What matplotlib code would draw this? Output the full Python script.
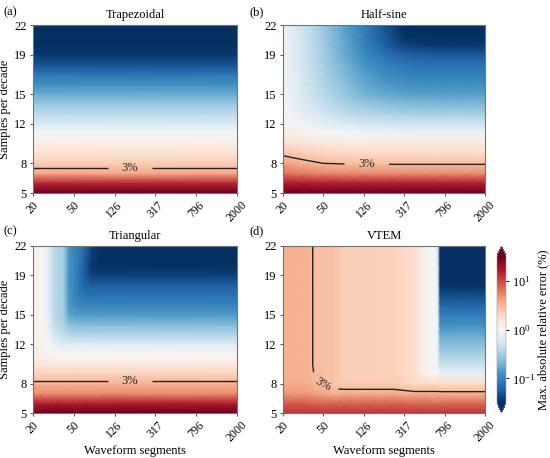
import numpy as np
import matplotlib
matplotlib.use('Agg')
import matplotlib.pyplot as plt
from matplotlib.colors import Normalize, LogNorm
from matplotlib.cm import ScalarMappable
from matplotlib.ticker import NullLocator

plt.rcParams['font.family'] = ['Liberation Serif', 'DejaVu Serif']
plt.rcParams['mathtext.fontset'] = 'custom'
plt.rcParams['mathtext.rm'] = 'Liberation Serif'
plt.rcParams['mathtext.it'] = 'Liberation Serif:italic'
plt.rcParams['font.size'] = 9

# ---------------- data ----------------
spd = [5, 6, 7, 8, 9, 10, 11, 12, 13, 14, 15, 16, 17, 18, 19, 20, 21, 22]
xticks = [20, 50, 126, 317, 796, 2000]
yticks = [5, 8, 12, 15, 19, 22]
titles = ["Trapezoidal", "Half-sine", "Triangular", "VTEM"]
letters = ["(a)", "(b)", "(c)", "(d)"]

# (a) Trapezoidal - rows y=5..22
seg_a = [20, 2000]
err_a = [
    [40, 40], [14, 14], [3.7, 3.7], [2.4, 2.4], [1.7, 1.7], [1.25, 1.25],
    [0.9, 0.9], [0.6, 0.6], [0.4, 0.4], [0.27, 0.27], [0.18, 0.18],
    [0.12, 0.12], [0.08, 0.08], [0.05, 0.05], [0.036, 0.036],
    [0.028, 0.028], [0.024, 0.024], [0.02, 0.02],
]

# (b) Half-sine
seg_b = [20, 32, 50, 80, 126, 200, 317, 502, 796, 1262, 2000]
err_b = [
    [36, 35, 35, 35, 35, 35, 35, 35, 35, 35, 35],
    [16, 15.5, 15, 15, 15, 15, 15, 15, 15, 15, 15],
    [6.5, 5.8, 5.3, 5.1, 5.0, 5.0, 5.0, 5.0, 5.0, 5.0, 5.0],
    [4.0, 3.4, 3.0, 2.9, 2.86, 2.84, 2.83, 2.83, 2.83, 2.83, 2.83],
    [2.75, 2.4, 2.2, 2.1, 2.05, 2.02, 2.0, 2.0, 2.0, 2.0, 2.0],
    [1.85, 1.6, 1.48, 1.42, 1.38, 1.36, 1.35, 1.35, 1.35, 1.35, 1.35],
    [1.4, 1.15, 1.02, 0.95, 0.9, 0.87, 0.855, 0.85, 0.85, 0.85, 0.85],
    [1.15, 0.88, 0.72, 0.6, 0.55, 0.52, 0.505, 0.5, 0.5, 0.5, 0.5],
    [1.02, 0.72, 0.55, 0.43, 0.37, 0.34, 0.325, 0.32, 0.32, 0.32, 0.32],
    [0.97, 0.63, 0.45, 0.33, 0.27, 0.24, 0.225, 0.22, 0.22, 0.22, 0.22],
    [0.94, 0.58, 0.39, 0.27, 0.20, 0.17, 0.155, 0.15, 0.15, 0.15, 0.15],
    [0.92, 0.55, 0.36, 0.24, 0.17, 0.14, 0.125, 0.12, 0.12, 0.12, 0.12],
    [0.91, 0.53, 0.34, 0.22, 0.15, 0.115, 0.1, 0.095, 0.095, 0.095, 0.095],
    [0.90, 0.52, 0.32, 0.2, 0.13, 0.095, 0.08, 0.076, 0.075, 0.075, 0.075],
    [0.89, 0.51, 0.31, 0.18, 0.11, 0.075, 0.06, 0.056, 0.055, 0.055, 0.055],
    [0.88, 0.50, 0.30, 0.17, 0.10, 0.06, 0.04, 0.036, 0.035, 0.035, 0.035],
    [0.87, 0.49, 0.29, 0.16, 0.095, 0.055, 0.033, 0.03, 0.03, 0.03, 0.03],
    [0.86, 0.48, 0.28, 0.155, 0.09, 0.05, 0.03, 0.027, 0.026, 0.026, 0.026],
]

# (c) Triangular
seg_c = [20, 24, 28, 33, 40, 45, 52, 62, 75, 90, 2000]
err_c = [
    [35, 35, 35, 35, 35, 35, 35, 35, 35, 35, 35],
    [15, 15, 15, 15, 15, 15, 15, 15, 15, 15, 15],
    [5, 5, 5, 5, 5, 5, 5, 5, 5, 5, 5],
    [3.3, 3.3, 3.3, 3.3, 3.3, 3.3, 3.3, 3.3, 3.3, 3.3, 3.3],
    [2.2, 2.2, 2.2, 2.2, 2.2, 2.2, 2.2, 2.2, 2.2, 2.2, 2.2],
    [1.5, 1.45, 1.42, 1.4, 1.4, 1.4, 1.4, 1.4, 1.4, 1.4, 1.4],
    [1.35, 1.2, 1.1, 1.02, 1.0, 1.0, 1.0, 1.0, 1.0, 1.0, 1.0],
    [1.3, 1.12, 0.95, 0.75, 0.68, 0.66, 0.65, 0.65, 0.65, 0.65, 0.65],
    [1.3, 1.07, 0.82, 0.5, 0.42, 0.37, 0.355, 0.35, 0.35, 0.35, 0.35],
    [1.3, 1.05, 0.77, 0.42, 0.34, 0.24, 0.225, 0.22, 0.22, 0.22, 0.22],
    [1.3, 1.05, 0.75, 0.38, 0.3, 0.16, 0.145, 0.14, 0.14, 0.14, 0.14],
    [1.3, 1.05, 0.75, 0.38, 0.3, 0.14, 0.11, 0.1, 0.1, 0.1, 0.1],
    [1.3, 1.05, 0.75, 0.38, 0.3, 0.13, 0.1, 0.08, 0.075, 0.075, 0.075],
    [1.3, 1.05, 0.75, 0.38, 0.3, 0.13, 0.1, 0.065, 0.06, 0.06, 0.06],
    [1.3, 1.05, 0.75, 0.38, 0.3, 0.13, 0.1, 0.06, 0.04, 0.04, 0.04],
    [1.3, 1.05, 0.75, 0.38, 0.3, 0.13, 0.1, 0.065, 0.035, 0.03, 0.03],
    [1.3, 1.05, 0.75, 0.38, 0.3, 0.13, 0.1, 0.07, 0.038, 0.027, 0.026],
    [1.3, 1.05, 0.75, 0.38, 0.3, 0.13, 0.1, 0.075, 0.042, 0.026, 0.024],
]

# (d) VTEM
seg_d = [20, 36, 42, 63, 80, 126, 250, 400, 500, 620, 680, 720, 2000]
err_d = [
    [12, 12, 12, 12, 12, 12, 12, 12, 12, 12, 12, 12, 12],
    [8, 8, 7.5, 7.5, 7.5, 7.5, 7.5, 7, 7, 7, 7, 7, 7],
    [4.5, 4.4, 4.0, 3.3, 3.5, 3.5, 3.5, 3.3, 3.3, 3.3, 3.3, 3.3, 3.3],
    [3.6, 3.5, 3.1, 2.7, 2.4, 2.4, 2.4, 2.0, 2.0, 2.0, 2.0, 1.9, 1.9],
    [3.4, 3.3, 2.9, 2.75, 2.3, 2.25, 2.2, 1.8, 1.2, 1.0, 0.95, 0.8, 0.8],
    [3.4, 3.3, 2.8, 2.8, 2.3, 2.25, 2.2, 1.8, 1.15, 0.95, 0.85, 0.45, 0.45],
    [3.4, 3.3, 2.8, 2.8, 2.3, 2.25, 2.2, 1.8, 1.15, 0.95, 0.85, 0.32, 0.32],
    [3.4, 3.3, 2.8, 2.8, 2.3, 2.25, 2.2, 1.8, 1.15, 0.95, 0.85, 0.23, 0.23],
    [3.4, 3.3, 2.8, 2.8, 2.3, 2.25, 2.2, 1.8, 1.15, 0.95, 0.85, 0.17, 0.17],
    [3.4, 3.3, 2.8, 2.8, 2.3, 2.25, 2.2, 1.8, 1.15, 0.95, 0.85, 0.12, 0.12],
    [3.4, 3.3, 2.8, 2.8, 2.3, 2.25, 2.2, 1.8, 1.15, 0.95, 0.85, 0.09, 0.09],
    [3.4, 3.3, 2.8, 2.8, 2.3, 2.25, 2.2, 1.8, 1.15, 0.95, 0.85, 0.065, 0.065],
    [3.4, 3.3, 2.8, 2.8, 2.3, 2.25, 2.2, 1.8, 1.15, 0.95, 0.82, 0.045, 0.045],
    [3.4, 3.3, 2.8, 2.8, 2.3, 2.25, 2.2, 1.8, 1.15, 0.95, 0.8, 0.032, 0.032],
    [3.4, 3.3, 2.8, 2.8, 2.3, 2.25, 2.2, 1.8, 1.15, 0.95, 0.78, 0.03, 0.03],
    [3.4, 3.3, 2.8, 2.8, 2.3, 2.25, 2.2, 1.8, 1.15, 0.95, 0.75, 0.028, 0.028],
    [3.4, 3.3, 2.8, 2.8, 2.3, 2.25, 2.2, 1.8, 1.15, 0.95, 0.72, 0.027, 0.027],
    [3.4, 3.3, 2.8, 2.8, 2.3, 2.25, 2.2, 1.8, 1.15, 0.95, 0.7, 0.026, 0.026],
]

contour_level = 3.0
label_pos = [(178, 7.5), (135, 7.9), (178, 8.2), (50, 8.0)]
label_gap = [14, 14, 14, 8]

# ---------------- figure ----------------
W, H = 550, 458
fig = plt.figure(figsize=(W / 100, H / 100), dpi=100)

def rect(l, t, r, b):
    return [l / W, 1 - b / H, (r - l) / W, (b - t) / H]

rects = [rect(33, 25, 237, 193), rect(283, 25, 485, 193),
         rect(33, 246, 237, 413), rect(283, 246, 485, 413)]
letter_xy = [(4, 12), (250, 12), (4, 231), (250, 231)]

vmin, vmax = 10 ** -1.5, 10 ** 1.5
cmap = plt.get_cmap('RdBu_r')
lnorm = Normalize(np.log10(vmin), np.log10(vmax))

panels = [(seg_a, err_a), (seg_b, err_b), (seg_c, err_c), (seg_d, err_d)]
for i, (seg, err) in enumerate(panels):
    ax = fig.add_axes(rects[i])
    # x drawn on a log10 scale (segments spaced by decades)
    lx = np.log10(np.array(seg, float))
    X, Y = np.meshgrid(lx, np.array(spd, float))
    Z = np.log10(np.array(err, float))
    ax.pcolormesh(X, Y, Z, cmap=cmap, norm=lnorm, shading='gouraud',
                  rasterized=True)
    cs = ax.contour(X, Y, Z, levels=[np.log10(contour_level)],
                    colors='#222222', linewidths=1.0)
    px, py = label_pos[i]
    ax.clabel(cs, fmt={cs.levels[0]: '3%'}, manual=[(np.log10(px), py)],
              inline=True, inline_spacing=label_gap[i], fontsize=9)
    ax.set_xlim(np.log10(20), np.log10(2000))
    ax.set_ylim(5, 22)
    ax.set_xticks(np.log10(xticks))
    ax.set_xticklabels([str(t) for t in xticks], rotation=45, fontsize=8.5)
    ax.xaxis.set_minor_locator(NullLocator())
    ax.set_yticks(yticks)
    ax.set_yticklabels([str(t) for t in yticks], fontsize=9)
    ax.tick_params(length=2.5, width=0.7, color='0.3', pad=2)
    for sp in ax.spines.values():
        sp.set_color('0.45')
        sp.set_linewidth(0.8)
    ax.set_title(titles[i], fontsize=9, pad=5)
    if i % 2 == 0:
        ax.set_ylabel('Samples per decade', fontsize=9, labelpad=2)
    if i >= 2:
        ax.set_xlabel('Waveform segments', fontsize=9, labelpad=0)
    fig.text(letter_xy[i][0] / W, 1 - letter_xy[i][1] / H, letters[i],
             fontsize=9, ha='left', va='center')

cax = fig.add_axes(rect(497, 246, 506, 413))
sm = ScalarMappable(norm=LogNorm(vmin, vmax), cmap=cmap)
cb = fig.colorbar(sm, cax=cax, extend='both', extendfrac=0.07)
cb.outline.set_linewidth(0.4)
cb.outline.set_edgecolor('0.6')
cb.ax.yaxis.set_minor_locator(NullLocator())
cb.ax.tick_params(labelsize=9, length=2.5, width=0.7, pad=2)
cb.set_label('Max. absolute relative error (%)', fontsize=9, labelpad=1)

fig.savefig('out.png', dpi=100)
